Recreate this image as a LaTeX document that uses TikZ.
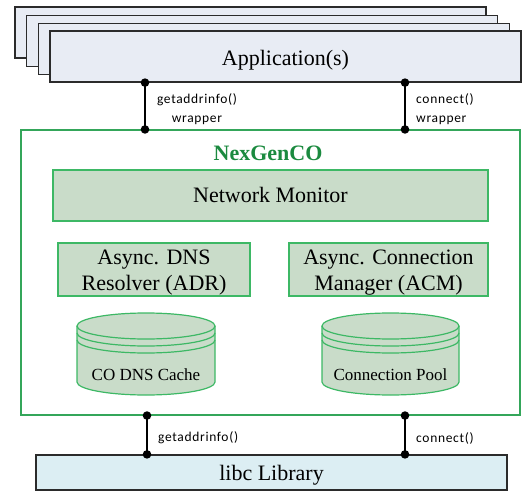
\documentclass[tikz,border=0pt]{standalone}
\usepackage{fontspec}
\setmainfont{Liberation Serif}
\newfontfamily\labfont[LetterSpace=5]{Carlito}
\definecolor{appfill}{HTML}{E8ECF4}
\definecolor{appdraw}{HTML}{2B2B2B}
\definecolor{frame}{HTML}{34A65A}
\definecolor{title}{HTML}{1B8A3F}
\definecolor{gfill}{HTML}{C9DCC9}
\definecolor{gdraw}{HTML}{3DB865}
\definecolor{libfill}{HTML}{DCEEF3}
\tikzset{
  appbox/.style={draw=appdraw, fill=appfill, line width=1.2pt, minimum width=471pt, minimum height=51pt, inner sep=0pt},
  gbox/.style={draw=gdraw, fill=gfill, line width=1.2pt, inner sep=0pt},
  txt/.style={inner sep=0pt, align=center, font=\fontsize{22}{25.5}\selectfont},
  frm/.style={draw=frame, line width=1.1pt, inner sep=0pt},
  libbox/.style={draw=appdraw, fill=libfill, line width=1.2pt, minimum width=471pt, minimum height=35pt, inner sep=0pt},
  conn/.style={draw=black, line width=1.2pt},
  dot/.style={fill=black, draw=none},
  lab/.style={font=\labfont\fontsize{13.5}{18}\selectfont, inner sep=0pt},
  cyl/.style={draw=gdraw, line width=1.2pt},
}
\newcommand\mycyl[3]{%
  \fill[gfill] (#1-#2,326) -- (#1-#2,382) arc[start angle=180,end angle=360,x radius=#2pt,y radius=13pt] -- (#1+#2,326) arc[start angle=0,end angle=180,x radius=#2pt,y radius=13pt] -- cycle;
  \draw[cyl] (#1-#2,326) -- (#1-#2,382) arc[start angle=180,end angle=360,x radius=#2pt,y radius=13pt] -- (#1+#2,326);
  \draw[cyl] (#1,326) ellipse[x radius=#2pt, y radius=13pt];
  \draw[cyl] (#1-#2,333) arc[start angle=180,end angle=360,x radius=#2pt,y radius=13pt];
  \draw[cyl] (#1-#2,340) arc[start angle=180,end angle=360,x radius=#2pt,y radius=13pt];
  \node[font=\fontsize{17}{20}\selectfont, inner sep=0pt] (#3) at (#1,375)}
\begin{document}
\begin{tikzpicture}[x=1pt,y=-1pt]
\useasboundingbox (0,0) rectangle (522,492);
% stacked applications
\node[appbox] (app1) at (250.5,32.5) {};
\node[appbox] (app2) at (262,41) {};
\node[appbox] (app3) at (274,49) {};
\node[appbox] (app4) at (285.5,56.5) {};
\node[txt] (appt) at (285.5,60) {Application(s)};
% NexGenCO frame
\node[frm, minimum width=499pt, minimum height=285pt] (ngc) at (270.5,272.5) {};
\node[font=\bfseries\fontsize{22}{26}\selectfont, text=title, inner sep=0pt] (ngct) at (268,153.5) {NexGenCO};
\node[gbox, minimum width=435pt, minimum height=51pt] (nm) at (270.5,195.5) {};
\node[txt] (nmt) at (270.5,195) {Network Monitor};
\node[gbox, minimum width=192pt, minimum height=53pt] (adr) at (154,269.5) {};
\node[txt] (adrt) at (154,272.5) {Async. DNS\\Resolver (ADR)};
\node[gbox, minimum width=199pt, minimum height=53pt] (acm) at (388.5,269.5) {};
\node[txt] (acmt) at (388.5,272.5) {Async. Connection\\Manager (ACM)};
\mycyl{146}{69}{cache}{CO DNS Cache};
\mycyl{390.5}{68.5}{pool}{Connection Pool};
% libc
\node[libbox] (libc) at (271.5,472.5) {};
\node[txt] (libct) at (271.5,475.5) {libc Library};
% connector x positions
\coordinate (xa) at (145,0);
\coordinate (xb) at (405,0);
\coordinate (xc) at (147,0);
\coordinate (xd) at (405,0);
\draw[conn] (app4.south -| xa) -- (ngc.north -| xa);
\draw[conn] (app4.south -| xb) -- (ngc.north -| xb);
\draw[conn] (ngc.south -| xc) -- (libc.north -| xc);
\draw[conn] (ngc.south -| xd) -- (libc.north -| xd);
\foreach \p in {app4.south -| xa, ngc.north -| xa, app4.south -| xb, ngc.north -| xb, ngc.south -| xc, libc.north -| xc, ngc.south -| xd, libc.north -| xd}
  \fill[dot] (\p) circle[radius=4.3pt];
% labels
\node[lab, align=center] (l1) at (197,109) {getaddrinfo()\\[1pt]wrapper};
\node[lab, align=left, anchor=west] (l2) at (416,109) {connect()\\[1pt]wrapper};
\node[lab, anchor=west] (l3) at (158,438) {getaddrinfo()};
\node[lab, anchor=west] (l4) at (416,438) {connect()};
\end{tikzpicture}
\end{document}
